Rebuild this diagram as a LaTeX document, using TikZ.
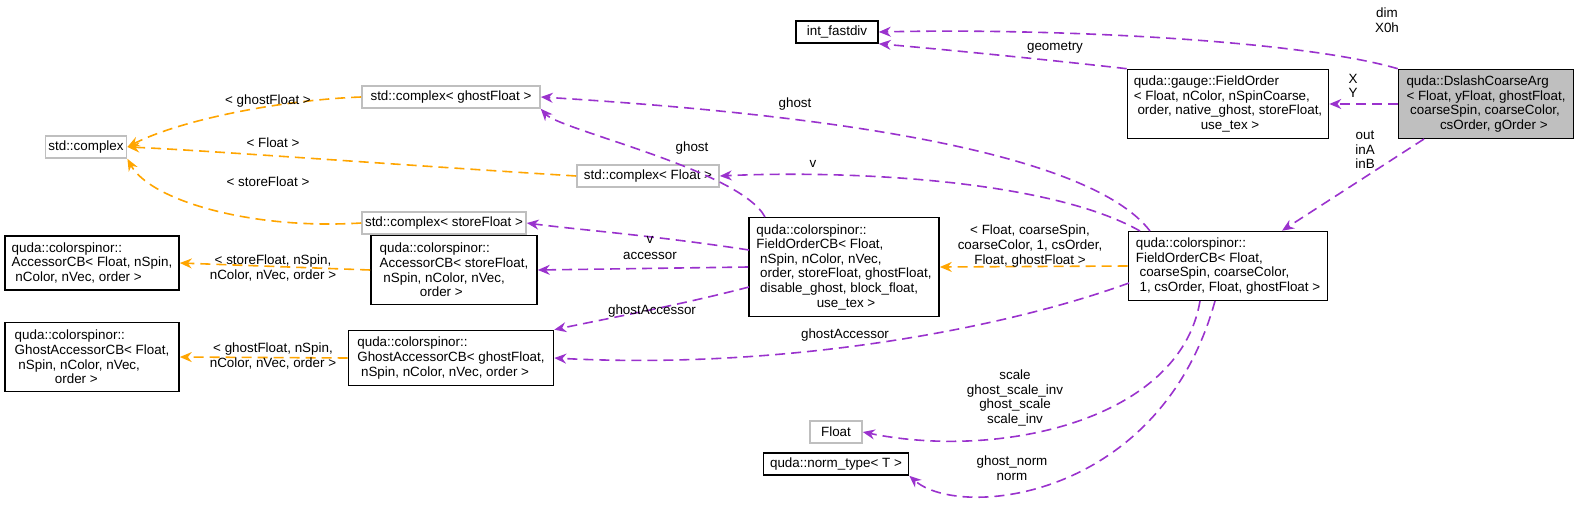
\documentclass[tikz,border=0pt]{standalone}
\usepackage{fontspec}
\setmainfont{Liberation Sans}
\usetikzlibrary{arrows.meta}
\definecolor{edgepurple}{HTML}{9A32CD}
\definecolor{edgeorange}{HTML}{FFA500}
\definecolor{boxgray}{HTML}{BFBFBF}
\definecolor{lightframe}{HTML}{BFBFBF}
\tikzset{
  cls/.style={draw=black, thick, fill=white, inner sep=1.5pt, align=left, font=\fontsize{6.7}{7.3}\selectfont},
  tmpl/.style={cls, draw=lightframe},
  uses/.style={draw=edgepurple, dashed, thick, dash pattern=on 5pt off 3pt, -{Stealth[length=6pt,width=5pt]}},
  inst/.style={draw=edgeorange, dashed, thick, dash pattern=on 5pt off 3pt, -{Stealth[length=6pt,width=5pt]}},
  lbl/.style={font=\fontsize{6.7}{7.3}\selectfont, align=center}
}
\begin{document}
\begin{tikzpicture}[x=0.5pt,y=-0.5pt]
  \useasboundingbox (0,0) rectangle (1579,524);

  % classes
  \node[cls, fill=boxgray, minimum width=87.5pt, minimum height=34.5pt] (arg) at (1486,104)
    {quda::DslashCoarseArg\\ {}< Float, yFloat, ghostFloat,\\ \ coarseSpin, coarseColor,\\ \hspace*{2.5em}csOrder, gOrder >};
  \node[cls, minimum width=41pt, minimum height=11pt] (fastdiv) at (837,32) {int\_fastdiv};
  \node[cls, minimum width=100.5pt, minimum height=34.5pt] (gauge) at (1228,104)
    {quda::gauge::FieldOrder\\ {}< Float, nColor, nSpinCoarse,\\ \ order, native\_ghost, storeFloat,\\ \hspace*{5em}use\_tex >};
  \node[cls, minimum width=99.5pt, minimum height=34.5pt] (cbout) at (1228,266)
    {quda::colorspinor::\\ FieldOrderCB< Float,\\ \ coarseSpin, coarseColor,\\ \ 1, csOrder, Float, ghostFloat >};
  \node[cls, minimum width=95pt, minimum height=49.5pt] (cbin) at (844,267)
    {quda::colorspinor::\\ FieldOrderCB< Float,\\ \ nSpin, nColor, nVec,\\ \ order, storeFloat, ghostFloat,\\ \ disable\_ghost, block\_float,\\ \hspace*{4.5em}use\_tex >};
  \node[tmpl, minimum width=89pt, minimum height=11pt] (cxghost) at (451,97) {std::complex< ghostFloat >};
  \node[tmpl, minimum width=39pt, minimum height=11pt] (cx) at (86,147) {std::complex};
  \node[tmpl, minimum width=71pt, minimum height=11pt] (cxfloat) at (648,176) {std::complex< Float >};
  \node[tmpl, minimum width=81pt, minimum height=11pt] (cxstore) at (444,223) {std::complex< storeFloat >};
  \node[cls, minimum width=83pt, minimum height=34.5pt] (accmid) at (454,270)
    {quda::colorspinor::\\ AccessorCB< storeFloat,\\ \ nSpin, nColor, nVec,\\ \hspace*{3em}order >};
  \node[cls, minimum width=87pt, minimum height=27pt] (accleft) at (92,263)
    {quda::colorspinor::\\ AccessorCB< Float, nSpin,\\ \ nColor, nVec, order >};
  \node[cls, minimum width=102.5pt, minimum height=27.5pt] (ghmid) at (451,358)
    {quda::colorspinor::\\ GhostAccessorCB< ghostFloat,\\ \ nSpin, nColor, nVec, order >};
  \node[cls, minimum width=87pt, minimum height=34.5pt] (ghleft) at (92,357)
    {quda::colorspinor::\\ GhostAccessorCB< Float,\\ \ nSpin, nColor, nVec,\\ \hspace*{3em}order >};
  \node[tmpl, minimum width=26pt, minimum height=11pt] (flt) at (836,432) {Float};
  \node[cls, minimum width=72.5pt, minimum height=11pt] (normtype) at (836,464) {quda::norm\_type< T >};

  % members
  \draw[uses] (arg.north west) .. controls (1300,40) and (1050,28) .. (fastdiv.east);
  \node[lbl] at (1387,20) {dim\\X0h};
  \draw[uses] (gauge.north west) .. controls (1050,60) and (950,50) .. (fastdiv.south east);
  \node[lbl] at (1055,48) {geometry};
  \draw[uses] (arg.west) -- (gauge.east);
  \node[lbl] at (1353,86) {X\\Y};
  \coordinate (argfoot) at (1424,139);
  \draw[uses] (argfoot) -- ([xshift=27pt]cbout.north);
  \node[lbl] at (1365,150) {out\\inA\\inB};
  \draw[uses] (1150,231) .. controls (1080,140) and (750,110) .. (cxghost.east);
  \node[lbl] at (795,104) {ghost};
  \draw[uses] (1140,231) .. controls (1050,180) and (850,170) .. (cxfloat.east);
  \node[lbl] at (813,164) {v};
  \draw[inst] (cbout.west) -- (cbin.east);
  \node[lbl] at (1030,246) {< Float, coarseSpin,\\coarseColor, 1, csOrder,\\Float, ghostFloat >};
  \draw[uses] (1129,283) .. controls (1000,330) and (780,370) .. (ghmid.east);
  \node[lbl] at (845,335) {ghostAccessor};
  \draw[uses] (1200,301) .. controls (1180,420) and (1000,460) .. (flt.east);
  \node[lbl] at (1015,398) {scale\\ghost\_scale\_inv\\ghost\_scale\\scale\_inv};
  \draw[uses] (1215,301) .. controls (1160,500) and (960,520) .. (normtype.south east);
  \node[lbl] at (1012,468) {ghost\_norm\\norm};
  \draw[uses] (765,217) .. controls (740,170) and (560,130) .. (cxghost.south east);
  \node[lbl] at (692,148) {ghost};
  \draw[uses] (749,250) .. controls (650,235) and (580,230) .. (cxstore.east);
  \node[lbl] at (650,240) {v};
  \draw[uses] (cbin.west) -- (accmid.east);
  \node[lbl] at (650,256) {accessor};
  \draw[uses] (749,287) .. controls (680,305) and (600,320) .. (ghmid.north east);
  \node[lbl] at (652,311) {ghostAccessor};

  % template instances
  \draw[inst] (cxghost.west) .. controls (280,100) and (180,120) .. (cx.east);
  \node[lbl] at (268,101) {< ghostFloat >};
  \draw[inst] (cxfloat.west) .. controls (400,165) and (200,150) .. (cx.east);
  \node[lbl] at (273,143) {< Float >};
  \draw[inst] (cxstore.west) .. controls (250,230) and (150,200) .. (cx.south east);
  \node[lbl] at (268,182) {< storeFloat >};
  \draw[inst] (accmid.west) -- (accleft.east);
  \node[lbl] at (273,268) {< storeFloat, nSpin,\\nColor, nVec, order >};
  \draw[inst] (ghmid.west) -- (ghleft.east);
  \node[lbl] at (273,356) {< ghostFloat, nSpin,\\nColor, nVec, order >};
\end{tikzpicture}
\end{document}
